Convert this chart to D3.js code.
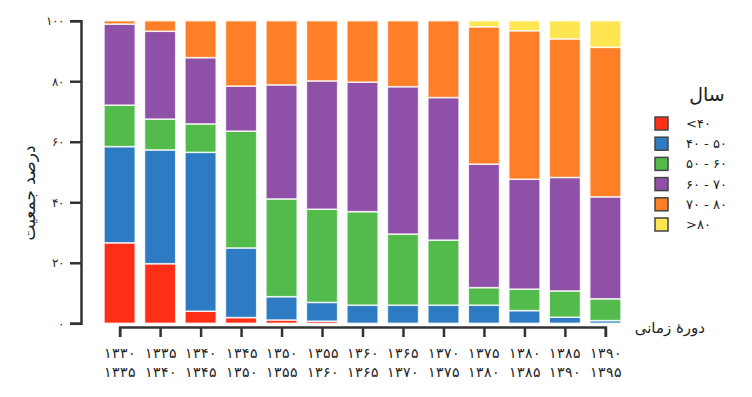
<!DOCTYPE html>
<html>
<head>
<meta charset="utf-8">
<script src="https://cdn.jsdelivr.net/npm/d3@7"></script>
<style>
  body { margin: 0; background: #fff; }
  svg { display: block; font-family: "DejaVu Sans", "Noto Sans", sans-serif; }
  .axis path, .axis line { stroke: #333; stroke-width: 2.5; }
</style>
</head>
<body>
<svg id="chart" width="752" height="397"></svg>
<script>
// periods
const startYears = [1330, 1335, 1340, 1345, 1350, 1355, 1360, 1365, 1370, 1375, 1380, 1385, 1390];
const endYears   = [1335, 1340, 1345, 1350, 1355, 1360, 1365, 1370, 1375, 1380, 1385, 1390, 1395];

// age groups (stack order, bottom -> top)
const groups = ["<40", "40-50", "50-60", "60-70", "70-80", ">80"];
const groupLabels = ["<۴۰", "۴۰ - ۵۰", "۵۰ - ۶۰", "۶۰ - ۷۰", "۷۰ - ۸۰", ">۸۰"];
const groupColors = ["#fe2e17", "#2d7bc3", "#53bb4b", "#8f51a7", "#fe7f27", "#fee552"];

// percent values per group, one per period
const under40  = [26.6, 19.7, 4.0, 1.9, 1.1, 0.7, 0.0, 0.0, 0.0, 0.0, 0.0, 0.0, 0.0];
const g40to50  = [31.8, 37.6, 52.5, 23.0, 7.7, 6.2, 6.0, 6.0, 6.0, 6.0, 4.2, 2.0, 0.9];
const g50to60  = [13.7, 10.2, 9.4, 38.6, 32.3, 30.8, 30.9, 23.5, 21.5, 5.8, 7.1, 8.7, 7.2];
const g60to70  = [26.8, 29.0, 21.9, 14.9, 37.7, 42.4, 42.8, 48.7, 47.1, 40.8, 36.3, 37.5, 33.7];
const g70to80  = [1.1, 3.5, 12.2, 21.6, 21.2, 19.9, 20.3, 21.8, 25.4, 45.4, 49.1, 45.8, 49.4];
const over80   = [0.0, 0.0, 0.0, 0.0, 0.0, 0.0, 0.0, 0.0, 0.0, 2.0, 3.3, 6.0, 8.8];

const yTicks = [0, 20, 40, 60, 80, 100];

const faDigits = "۰۱۲۳۴۵۶۷۸۹";
const toFa = v => String(v).replace(/\d/g, c => faDigits[+c]);

const seriesValues = [under40, g40to50, g50to60, g60to70, g70to80, over80];
const rows = startYears.map((s, i) => {
  const r = { period: s + "-" + endYears[i], start: s, end: endYears[i] };
  groups.forEach((g, j) => { r[g] = seriesValues[j][i]; });
  return r;
});

const svg = d3.select("#chart");

const x = d3.scaleBand()
  .domain(rows.map(d => d.period))
  .range([100, 625])
  .paddingInner(0.23)
  .paddingOuter(0.1);

const y = d3.scaleLinear().domain([0, 100]).range([323.3, 20.7]);

const color = d3.scaleOrdinal().domain(groups).range(groupColors);

const stacked = d3.stack().keys(groups)(rows);

// bars
svg.append("g").selectAll("g")
  .data(stacked)
  .join("g")
  .attr("fill", d => color(d.key))
  .selectAll("rect")
  .data(d => d.filter(p => p[1] - p[0] > 0))
  .join("rect")
  .attr("x", d => x(d.data.period))
  .attr("y", d => y(d[1]))
  .attr("width", x.bandwidth())
  .attr("height", d => y(d[0]) - y(d[1]))
  .attr("stroke", "#fff")
  .attr("stroke-opacity", 0.8)
  .attr("stroke-width", 1.5);

// y axis
svg.append("g")
  .attr("class", "axis")
  .attr("transform", "translate(81,0)")
  .call(d3.axisLeft(y).tickValues(yTicks).tickSize(11).tickPadding(6).tickFormat(toFa))
  .call(g => g.selectAll("text").attr("font-size", 12).attr("fill", "#222"));

// x axis, ticks at the bar centres
const xp = d3.scalePoint()
  .domain(rows.map(d => d.period))
  .range([x(rows[0].period) + x.bandwidth() / 2, x(rows[rows.length - 1].period) + x.bandwidth() / 2]);

const xAxis = svg.append("g")
  .attr("class", "axis")
  .attr("transform", "translate(0,327)")
  .call(d3.axisBottom(xp).tickSize(10).tickSizeOuter(10).tickFormat(""));

xAxis.selectAll(".tick").each(function (p) {
  const r = rows.find(d => d.period === p);
  const t = d3.select(this).append("text")
    .attr("fill", "#222")
    .attr("font-size", 14)
    .attr("letter-spacing", 0.3)
    .attr("text-anchor", "middle");
  t.append("tspan").attr("x", 0).attr("y", 31).text(toFa(r.start));
  t.append("tspan").attr("x", 0).attr("y", 50).text(toFa(r.end));
});

// axis titles
svg.append("text")
  .attr("transform", "translate(29,193) rotate(-90)")
  .attr("text-anchor", "middle")
  .attr("dominant-baseline", "central")
  .attr("font-size", 17)
  .attr("fill", "#222")
  .text("درصد جمعیت");

svg.append("text")
  .attr("x", 705)
  .attr("y", 333)
  .attr("text-anchor", "end")
  .attr("font-size", 15)
  .attr("fill", "#222")
  .text("دورهٔ زمانی");

// legend
const legend = svg.append("g").attr("transform", "translate(655,117)");

legend.append("text")
  .attr("x", 52)
  .attr("y", -16)
  .attr("text-anchor", "middle")
  .attr("font-size", 19)
  .attr("fill", "#222")
  .text("سال");

const item = legend.selectAll("g.item")
  .data(groups)
  .join("g")
  .attr("class", "item")
  .attr("transform", (d, i) => `translate(0,${i * 20.2})`);

item.append("rect")
  .attr("width", 13)
  .attr("height", 13)
  .attr("fill", d => color(d))
  .attr("stroke", "#444")
  .attr("stroke-width", 1.5);

item.append("text")
  .attr("x", 31)
  .attr("y", 6.5)
  .attr("dominant-baseline", "central")
  .attr("font-size", 13)
  .attr("letter-spacing", 0.5)
  .attr("fill", "#222")
  .attr("direction", "ltr")
  .text((d, i) => groupLabels[i]);
</script>
</body>
</html>
